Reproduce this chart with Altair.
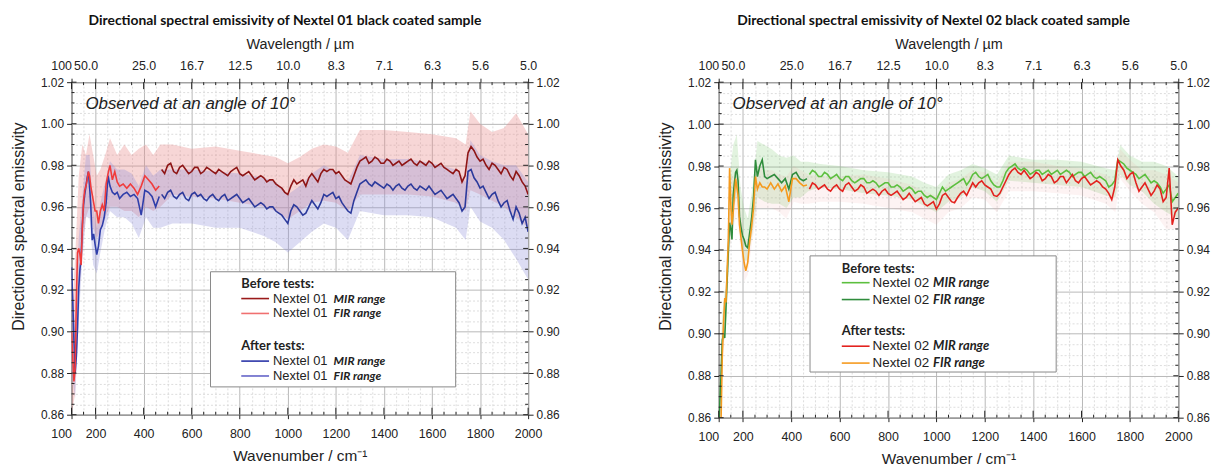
import altair as alt
import pandas as pd

# ---------------- texts ----------------
TITLE_1 = "Directional spectral emissivity of Nextel 01 black coated sample"
TITLE_2 = "Directional spectral emissivity of Nextel 02 black coated sample"
NOTE = "Observed at an angle of 10°"
X_TITLE = "Wavenumber / cm⁻¹"
TOP_TITLE = "Wavelength / µm"
Y_TITLE = "Directional spectral emissivity"

# ---------------- ticks ----------------
X_TICKS = [100, 200, 400, 600, 800, 1000, 1200, 1400, 1600, 1800, 2000]
TOP_LABELS = ["100", "50.0", "25.0", "16.7", "12.5", "10.0", "8.3", "7.1", "6.3", "5.6", "5.0"]
X_MINOR = [150, 250, 300, 350, 450, 500, 550, 650, 700, 750, 850, 900, 950,
           1050, 1100, 1150, 1250, 1300, 1350, 1450, 1500, 1550, 1650, 1700,
           1750, 1850, 1900, 1950]
Y_TICKS = [0.86, 0.88, 0.90, 0.92, 0.94, 0.96, 0.98, 1.00, 1.02]
Y_MINOR = [0.865, 0.87, 0.875, 0.885, 0.89, 0.895, 0.905, 0.91, 0.915,
           0.925, 0.93, 0.935, 0.945, 0.95, 0.955, 0.965, 0.97, 0.975,
           0.985, 0.99, 0.995, 1.005, 1.01, 1.015]

# ---------------- spectra ----------------
FIR_WN = [100, 105, 110, 115, 120, 125, 130, 135, 140, 145, 150, 155, 160, 165,
          170, 175, 180, 186, 192, 198, 205, 212, 220, 228, 236, 244, 252, 260,
          270, 280, 290, 300, 315, 330, 345, 360, 375, 390, 405, 420, 435, 450, 465]
MIR_WN = [475, 500, 525, 550, 575, 600, 625, 650, 675, 700, 725, 750, 775, 800,
          825, 850, 875, 900, 925, 950, 975, 1000, 1025, 1050, 1075, 1100, 1125,
          1150, 1175, 1200, 1225, 1250, 1275, 1300, 1325, 1350, 1375, 1400, 1425,
          1450, 1475, 1500, 1525, 1550, 1575, 1600, 1625, 1650, 1675, 1700, 1725,
          1750, 1775, 1800, 1825, 1850, 1875, 1900, 1925, 1950, 1975, 2000]
MIR_MID_WN = [487.5, 512.5, 537.5, 562.5, 587.5, 612.5, 637.5, 662.5, 687.5, 712.5,
              737.5, 762.5, 787.5, 812.5, 837.5, 862.5, 887.5, 912.5, 937.5, 962.5,
              987.5, 1012.5, 1037.5, 1062.5, 1087.5, 1112.5, 1137.5, 1162.5, 1187.5,
              1212.5, 1237.5, 1262.5, 1287.5, 1312.5, 1337.5, 1362.5, 1387.5, 1412.5,
              1437.5, 1462.5, 1487.5, 1512.5, 1537.5, 1562.5, 1587.5, 1612.5, 1637.5,
              1662.5, 1687.5, 1712.5, 1737.5, 1762.5, 1787.5, 1812.5, 1837.5, 1862.5,
              1887.5, 1912.5, 1937.5, 1962.5, 1987.5]

# Nextel 01
P1_BEFORE_FIR = [0.900, 0.888, 0.876, 0.882, 0.915, 0.938, 0.940, 0.937, 0.932, 0.950,
                 0.963, 0.968, 0.970, 0.973, 0.977, 0.975, 0.970, 0.966, 0.962, 0.958,
                 0.958, 0.952, 0.958, 0.961, 0.958, 0.971, 0.976, 0.980, 0.973, 0.977,
                 0.972, 0.970, 0.971, 0.969, 0.971, 0.969, 0.966, 0.970, 0.975, 0.973,
                 0.971, 0.968, 0.970]
P1_AFTER_FIR = [0.931, 0.915, 0.896, 0.880, 0.888, 0.902, 0.921, 0.930, 0.935, 0.951,
                0.961, 0.966, 0.970, 0.974, 0.977, 0.970, 0.961, 0.944, 0.947, 0.942,
                0.937, 0.941, 0.949, 0.951, 0.955, 0.962, 0.975, 0.970, 0.967, 0.966,
                0.967, 0.964, 0.966, 0.967, 0.965, 0.966, 0.964, 0.956, 0.968, 0.967,
                0.965, 0.960, 0.965]
P1_BEFORE_MIR = [0.978, 0.980, 0.977, 0.979, 0.978, 0.977, 0.979, 0.977, 0.978, 0.976,
                 0.977, 0.975, 0.978, 0.976, 0.976, 0.975, 0.974, 0.974, 0.973, 0.971,
                 0.969, 0.966, 0.973, 0.972, 0.970, 0.976, 0.972, 0.978, 0.978, 0.976,
                 0.975, 0.972, 0.975, 0.982, 0.984, 0.982, 0.983, 0.981, 0.982, 0.981,
                 0.980, 0.982, 0.981, 0.982, 0.980, 0.981, 0.980, 0.979, 0.977, 0.978,
                 0.972, 0.986, 0.987, 0.982, 0.980, 0.981, 0.978, 0.979, 0.975, 0.977,
                 0.972, 0.966]
P1_BEFORE_MIR_MID = [0.976, 0.981, 0.976, 0.980, 0.976, 0.979, 0.976, 0.979, 0.977, 0.978,
                     0.976, 0.977, 0.979, 0.975, 0.977, 0.973, 0.975, 0.972, 0.973, 0.970,
                     0.967, 0.970, 0.971, 0.973, 0.974, 0.974, 0.976, 0.977, 0.978, 0.977,
                     0.973, 0.971, 0.979, 0.983, 0.981, 0.984, 0.981, 0.983, 0.980, 0.982,
                     0.981, 0.983, 0.980, 0.981, 0.982, 0.979, 0.981, 0.978, 0.976, 0.977,
                     0.975, 0.989, 0.984, 0.983, 0.978, 0.980, 0.976, 0.978, 0.973, 0.975,
                     0.970]
P1_AFTER_MIR = [0.966, 0.967, 0.965, 0.966, 0.964, 0.966, 0.965, 0.964, 0.965, 0.964,
                0.965, 0.963, 0.965, 0.964, 0.963, 0.962, 0.961, 0.961, 0.960, 0.958,
                0.956, 0.952, 0.961, 0.958, 0.957, 0.963, 0.959, 0.966, 0.966, 0.964,
                0.962, 0.958, 0.963, 0.971, 0.973, 0.970, 0.971, 0.969, 0.970, 0.970,
                0.969, 0.970, 0.969, 0.970, 0.968, 0.968, 0.967, 0.966, 0.965, 0.964,
                0.958, 0.977, 0.974, 0.969, 0.967, 0.966, 0.963, 0.962, 0.958, 0.960,
                0.952, 0.948]
P1_AFTER_MIR_MID = [0.964, 0.968, 0.964, 0.967, 0.963, 0.967, 0.966, 0.963, 0.966, 0.963,
                    0.966, 0.964, 0.966, 0.962, 0.964, 0.960, 0.962, 0.959, 0.960, 0.957,
                    0.954, 0.958, 0.960, 0.956, 0.960, 0.961, 0.962, 0.965, 0.967, 0.965,
                    0.960, 0.957, 0.967, 0.972, 0.971, 0.972, 0.970, 0.971, 0.968, 0.971,
                    0.968, 0.971, 0.968, 0.969, 0.970, 0.966, 0.968, 0.964, 0.966, 0.962,
                    0.960, 0.978, 0.972, 0.970, 0.964, 0.967, 0.960, 0.963, 0.954, 0.957,
                    0.955]

# Nextel 02
P2_BEFORE_FIR = [0.850, 0.868, 0.881, 0.897, 0.900, 0.898, 0.912, 0.926, 0.940, 0.953,
                 0.950, 0.945, 0.966, 0.972, 0.977, 0.978, 0.973, 0.956, 0.951, 0.947,
                 0.945, 0.942, 0.941, 0.948, 0.955, 0.965, 0.983, 0.975, 0.980, 0.983,
                 0.975, 0.974, 0.975, 0.976, 0.974, 0.972, 0.974, 0.969, 0.976, 0.977,
                 0.974, 0.973, 0.974]
P2_AFTER_FIR = [0.835, 0.845, 0.860, 0.890, 0.905, 0.917, 0.915, 0.930, 0.945, 0.979,
                0.962, 0.952, 0.958, 0.966, 0.974, 0.970, 0.966, 0.952, 0.946, 0.940,
                0.934, 0.930, 0.934, 0.944, 0.951, 0.960, 0.975, 0.969, 0.972, 0.970,
                0.970, 0.969, 0.972, 0.969, 0.9715, 0.968, 0.9705, 0.963, 0.974, 0.974,
                0.972, 0.9705, 0.971]
P2_BEFORE_MIR = [0.976, 0.977, 0.975, 0.976, 0.975, 0.974, 0.975, 0.973, 0.973, 0.974,
                 0.972, 0.972, 0.971, 0.972, 0.970, 0.970, 0.969, 0.969, 0.968, 0.966,
                 0.966, 0.964, 0.970, 0.969, 0.971, 0.973, 0.971, 0.976, 0.975, 0.975,
                 0.973, 0.970, 0.973, 0.979, 0.981, 0.978, 0.978, 0.977, 0.978, 0.977,
                 0.976, 0.978, 0.977, 0.977, 0.976, 0.977, 0.976, 0.975, 0.975, 0.973,
                 0.971, 0.983, 0.981, 0.978, 0.976, 0.975, 0.974, 0.973, 0.970, 0.969,
                 0.963, 0.967]
P2_BEFORE_MIR_MID = [0.978, 0.975, 0.977, 0.974, 0.976, 0.973, 0.975, 0.972, 0.974, 0.972,
                     0.973, 0.970, 0.972, 0.970, 0.971, 0.968, 0.970, 0.967, 0.968, 0.965,
                     0.965, 0.967, 0.968, 0.970, 0.972, 0.974, 0.973, 0.977, 0.974, 0.976,
                     0.971, 0.970, 0.977, 0.980, 0.979, 0.979, 0.976, 0.978, 0.976, 0.978,
                     0.977, 0.976, 0.978, 0.975, 0.977, 0.975, 0.977, 0.974, 0.974, 0.970,
                     0.973, 0.982, 0.979, 0.977, 0.974, 0.976, 0.972, 0.972, 0.967, 0.971,
                     0.965]
P2_AFTER_MIR = [0.969, 0.971, 0.970, 0.969, 0.970, 0.969, 0.971, 0.970, 0.969, 0.970,
                0.968, 0.968, 0.968, 0.967, 0.967, 0.966, 0.965, 0.965, 0.964, 0.962,
                0.962, 0.9595, 0.966, 0.965, 0.9625, 0.967, 0.966, 0.972, 0.972, 0.971,
                0.969, 0.9655, 0.970, 0.976, 0.979, 0.976, 0.976, 0.975, 0.976, 0.974,
                0.975, 0.973, 0.975, 0.974, 0.973, 0.974, 0.973, 0.972, 0.972, 0.969,
                0.964, 0.983, 0.978, 0.976, 0.972, 0.970, 0.969, 0.968, 0.969, 0.965,
                0.952, 0.960]
P2_AFTER_MIR_MID = [0.972, 0.969, 0.971, 0.968, 0.971, 0.968, 0.972, 0.968, 0.971, 0.967,
                    0.969, 0.966, 0.969, 0.966, 0.968, 0.964, 0.967, 0.963, 0.965, 0.961,
                    0.963, 0.962, 0.967, 0.963, 0.965, 0.968, 0.969, 0.970, 0.973, 0.970,
                    0.966, 0.967, 0.973, 0.978, 0.977, 0.978, 0.974, 0.977, 0.973, 0.976,
                    0.972, 0.975, 0.972, 0.976, 0.972, 0.975, 0.971, 0.973, 0.970, 0.967,
                    0.970, 0.980, 0.974, 0.977, 0.968, 0.972, 0.966, 0.971, 0.963, 0.979,
                    0.958]

# uncertainty bands (lower / upper edges)
BAND_WN = [100, 115, 130, 145, 160, 175, 190, 205, 220, 240, 260, 290, 320, 350,
           380, 410, 440, 470, 520, 600, 700, 800, 900, 950, 1000, 1050, 1100, 1150,
           1200, 1250, 1300, 1400, 1500, 1600, 1700, 1740, 1760, 1800, 1850, 1900,
           1950, 2000]
P1_BAND_BEFORE_LO = [0.860, 0.870, 0.915, 0.940, 0.955, 0.960, 0.950, 0.945, 0.948, 0.955,
                     0.960, 0.960, 0.958, 0.958, 0.955, 0.960, 0.958, 0.960, 0.966, 0.965,
                     0.964, 0.962, 0.960, 0.958, 0.954, 0.958, 0.962, 0.963, 0.962, 0.958,
                     0.966, 0.966, 0.966, 0.965, 0.962, 0.958, 0.968, 0.966, 0.963, 0.960,
                     0.955, 0.950]
P1_BAND_BEFORE_HI = [0.905, 0.935, 0.975, 0.990, 0.985, 0.995, 0.985, 0.975, 0.978, 0.985,
                     0.993, 0.985, 0.990, 0.985, 0.988, 0.990, 0.985, 0.990, 0.990, 0.988,
                     0.989, 0.987, 0.985, 0.984, 0.981, 0.984, 0.988, 0.990, 0.989, 0.986,
                     0.997, 0.997, 0.996, 0.995, 0.993, 0.990, 1.006, 1.000, 0.996, 0.998,
                     1.005, 0.995]
P1_BAND_AFTER_LO = [0.880, 0.868, 0.905, 0.935, 0.955, 0.955, 0.932, 0.928, 0.938, 0.950,
                    0.958, 0.955, 0.955, 0.952, 0.945, 0.955, 0.950, 0.950, 0.952, 0.952,
                    0.950, 0.950, 0.946, 0.943, 0.938, 0.943, 0.948, 0.952, 0.950, 0.944,
                    0.958, 0.956, 0.956, 0.955, 0.950, 0.944, 0.960, 0.953, 0.950, 0.944,
                    0.935, 0.925]
P1_BAND_AFTER_HI = [0.935, 0.900, 0.945, 0.965, 0.985, 0.985, 0.960, 0.950, 0.962, 0.972,
                    0.982, 0.978, 0.978, 0.976, 0.970, 0.980, 0.975, 0.978, 0.978, 0.978,
                    0.977, 0.976, 0.974, 0.972, 0.966, 0.970, 0.976, 0.980, 0.977, 0.972,
                    0.985, 0.983, 0.983, 0.981, 0.978, 0.972, 0.992, 0.985, 0.982, 0.980,
                    0.980, 0.972]
P2_BAND_BEFORE_LO = [0.860, 0.890, 0.905, 0.940, 0.960, 0.965, 0.945, 0.935, 0.935, 0.948,
                     0.965, 0.963, 0.962, 0.962, 0.960, 0.965, 0.965, 0.968, 0.970, 0.969,
                     0.967, 0.966, 0.964, 0.961, 0.958, 0.963, 0.965, 0.970, 0.968, 0.963,
                     0.973, 0.972, 0.971, 0.970, 0.966, 0.965, 0.976, 0.971, 0.968, 0.962,
                     0.958, 0.955]
P2_BAND_BEFORE_HI = [0.870, 0.910, 0.925, 0.975, 0.990, 0.995, 0.970, 0.960, 0.955, 0.970,
                     0.992, 0.990, 0.988, 0.985, 0.984, 0.985, 0.982, 0.982, 0.981, 0.980,
                     0.978, 0.977, 0.975, 0.972, 0.970, 0.976, 0.978, 0.981, 0.979, 0.976,
                     0.985, 0.983, 0.983, 0.982, 0.979, 0.978, 0.990, 0.985, 0.982, 0.982,
                     0.980, 0.975]
P2_BAND_AFTER_LO = [0.860, 0.885, 0.905, 0.940, 0.950, 0.958, 0.940, 0.925, 0.928, 0.945,
                    0.960, 0.960, 0.960, 0.958, 0.955, 0.963, 0.962, 0.962, 0.963, 0.963,
                    0.962, 0.960, 0.958, 0.955, 0.952, 0.958, 0.960, 0.965, 0.964, 0.958,
                    0.968, 0.968, 0.967, 0.966, 0.962, 0.958, 0.974, 0.968, 0.962, 0.958,
                    0.950, 0.950]
P2_BAND_AFTER_HI = [0.866, 0.905, 0.925, 0.975, 0.975, 0.980, 0.962, 0.945, 0.945, 0.965,
                    0.980, 0.978, 0.978, 0.976, 0.975, 0.980, 0.978, 0.976, 0.975, 0.975,
                    0.976, 0.974, 0.971, 0.968, 0.966, 0.972, 0.974, 0.978, 0.977, 0.972,
                    0.982, 0.982, 0.980, 0.979, 0.976, 0.972, 0.988, 0.983, 0.978, 0.978,
                    0.976, 0.972]

# legend texts
LEG_HEADS = ["Before tests:", "After tests:"]
LEG_RANGES = ["MIR range", "FIR range", "MIR range", "FIR range"]
P1_NAME = "Nextel 01"
P2_NAME = "Nextel 02"

# ---------------- styling ----------------
FONT = "Liberation Sans"
TFONT = "Lato"
TXT = "#222222"

P1_LEG_COLORS = ["#9a1a1a", "#f07070", "#2a34a8", "#6464c8"]
P2_LEG_COLORS = ["#5cbf3e", "#2f8c3c", "#e3221e", "#f59a1e"]


def label_expr(values, labels):
    expr = "''"
    for v, lab in reversed(list(zip(values, labels))):
        expr = f"datum.value === {v} ? '{lab}' : ({expr})"
    return expr


ALIGN_FIRST_RIGHT = {"condition": {"test": "datum.value === 100", "value": "right"},
                     "value": "center"}
TOP_OFFSET = {"condition": {"test": "datum.value === 200", "value": -10}, "value": 0}


def panel(title, w, h, leg_colors, name, bands, lines, box, rows, sz):
    xs = alt.Scale(domain=[100, 2000], nice=False, zero=False)
    ys = alt.Scale(domain=[0.86, 1.02], nice=False, zero=False)
    one = pd.DataFrame({"k": [0]})
    layers = []

    minor_x_axis = alt.Axis(orient="bottom", values=X_MINOR, grid=True, gridColor="#d4d4d4",
                            gridDash=[2, 2], gridWidth=0.8, labels=False, ticks=False,
                            domain=False, title="")
    minor_y_axis = alt.Axis(orient="left", values=Y_MINOR, grid=True, gridColor="#d4d4d4",
                            gridDash=[2, 2], gridWidth=0.8, labels=False, ticks=False,
                            domain=False, title="")
    bottom_axis = alt.Axis(orient="bottom", values=X_TICKS, format="d", grid=True,
                           gridColor="#b8b8b8", gridWidth=1, ticks=True, tickSize=4,
                           tickColor="#222", domain=False, labelPadding=9,
                           labelFontSize=12.5, labelAlign=ALIGN_FIRST_RIGHT,
                           title=X_TITLE, titleFontSize=15.5, titlePadding=9,
                           labelFlush=False)
    left_axis = alt.Axis(orient="left", values=Y_TICKS, format=".2f", grid=True,
                         gridColor="#b8b8b8", gridWidth=1, ticks=True, tickSize=5,
                         tickColor="#222", domain=False, labelPadding=3,
                         labelFontSize=12, title=Y_TITLE, titleFontSize=16,
                         titlePadding=14, titleY=145)
    top_axis = alt.Axis(orient="top", values=X_TICKS, labelExpr=label_expr(X_TICKS, TOP_LABELS),
                        grid=False, ticks=True, tickSize=4, tickColor="#222", domain=False,
                        labelPadding=6, labelFontSize=12.5, labelAlign=ALIGN_FIRST_RIGHT,
                        labelOffset=TOP_OFFSET, title=TOP_TITLE, titleFontSize=14.5,
                        titlePadding=8, labelFlush=False)
    right_axis = alt.Axis(orient="right", values=Y_TICKS, format=".2f", grid=False,
                          ticks=True, tickSize=5, tickColor="#222", domain=False,
                          labelPadding=3, labelFontSize=12, title="")

    # bands
    for i, (lo, hi, col, op) in enumerate(bands):
        df = pd.DataFrame({"wn": BAND_WN, "lo": lo, "hi": hi})
        layers.append(alt.Chart(df).mark_area(color=col, opacity=op, clip=True).encode(
            x=alt.X("wn:Q", scale=xs, axis=minor_x_axis if i == 0 else None),
            y=alt.Y("lo:Q", scale=ys, axis=minor_y_axis if i == 0 else None),
            y2="hi:Q"))

    # lines
    axes_for = [(bottom_axis, left_axis), (top_axis, right_axis), (None, None), (None, None)]
    for i, (wn, vals, col) in enumerate(lines):
        df = pd.DataFrame({"wn": wn, "v": vals})
        xa, ya = axes_for[i]
        layers.append(alt.Chart(df).mark_line(color=col, strokeWidth=1.6, clip=True).encode(
            x=alt.X("wn:Q", scale=xs, axis=xa, sort="ascending"),
            y=alt.Y("v:Q", scale=ys, axis=ya)))

    # inward ticks
    tx = pd.DataFrame({"t": X_TICKS})
    txm = pd.DataFrame({"t": X_MINOR})
    ty = pd.DataFrame({"t": Y_TICKS})
    tym = pd.DataFrame({"t": Y_MINOR})
    for d, ln in ((tx, 7), (txm, 3)):
        layers.append(alt.Chart(d).mark_rule(color="#222", strokeWidth=1).encode(
            x=alt.X("t:Q", scale=xs, axis=None), y=alt.value(h), y2=alt.value(h - ln)))
        layers.append(alt.Chart(d).mark_rule(color="#222", strokeWidth=1).encode(
            x=alt.X("t:Q", scale=xs, axis=None), y=alt.value(0), y2=alt.value(ln)))
    for d, ln in ((ty, 5), (tym, 3)):
        layers.append(alt.Chart(d).mark_rule(color="#222", strokeWidth=1).encode(
            y=alt.Y("t:Q", scale=ys, axis=None), x=alt.value(0), x2=alt.value(ln)))
        layers.append(alt.Chart(d).mark_rule(color="#222", strokeWidth=1).encode(
            y=alt.Y("t:Q", scale=ys, axis=None), x=alt.value(w), x2=alt.value(w - ln)))

    # annotation
    layers.append(alt.Chart(one).mark_text(text=NOTE, font=FONT, fontSize=17, fontStyle="italic",
                                           align="left", baseline="middle", color=TXT).encode(
        x=alt.value(14), y=alt.value(22)))

    # legend box
    bx0, bx1, by0, by1 = box
    layers.append(alt.Chart(one).mark_rect(fill="white", stroke="#888888", strokeWidth=1).encode(
        x=alt.value(bx0), x2=alt.value(bx1), y=alt.value(by0), y2=alt.value(by1)))
    lx, nx, rx, head_y, row_y = rows
    for hy, head in zip(head_y, LEG_HEADS):
        layers.append(alt.Chart(one).mark_text(text=head, font=TFONT, fontSize=sz[0],
                                               fontWeight="bold", align="left",
                                               baseline="middle", color=TXT).encode(
            x=alt.value(lx), y=alt.value(hy)))
    for ry, rng, col in zip(row_y, LEG_RANGES, leg_colors):
        layers.append(alt.Chart(one).mark_rule(color=col, strokeWidth=1.6).encode(
            x=alt.value(lx), x2=alt.value(lx + 28), y=alt.value(ry)))
        layers.append(alt.Chart(one).mark_text(text=name, font=FONT, fontSize=sz[1],
                                               align="left", baseline="middle",
                                               color=TXT).encode(
            x=alt.value(nx), y=alt.value(ry)))
        layers.append(alt.Chart(one).mark_text(text=rng, font=TFONT, fontSize=sz[2],
                                               fontWeight="bold", fontStyle="italic",
                                               align="left", baseline="middle",
                                               color=TXT).encode(
            x=alt.value(rx), y=alt.value(ry)))

    return alt.layer(*layers).resolve_axis(x="independent", y="independent").properties(
        width=w, height=h,
        title=alt.TitleParams(title, font=TFONT, fontSize=14, fontWeight="bold",
                              anchor="middle", frame="bounds", color="#111", offset=9))


MIR_ALL = MIR_WN + MIR_MID_WN

p1 = panel(TITLE_1, 460, 335, P1_LEG_COLORS, P1_NAME,
           [(P1_BAND_BEFORE_LO, P1_BAND_BEFORE_HI, "#e88a8a", 0.35),
            (P1_BAND_AFTER_LO, P1_BAND_AFTER_HI, "#8a8ad8", 0.30)],
           [(FIR_WN, P1_AFTER_FIR, "#2f3eaa"),
            (FIR_WN, P1_BEFORE_FIR, "#f03c3c"),
            (MIR_ALL, P1_BEFORE_MIR + P1_BEFORE_MIR_MID, "#8e1515"),
            (MIR_ALL, P1_AFTER_MIR + P1_AFTER_MIR_MID, "#2c3a9c")],
           (140, 387, 191, 307),
           (171, 203, 264, [203, 266], [218, 233, 281, 296]),
           (13, 13, 12))

p2 = panel(TITLE_2, 463, 338, P2_LEG_COLORS, P2_NAME,
           [(P2_BAND_BEFORE_LO, P2_BAND_BEFORE_HI, "#7cc86c", 0.22),
            (P2_BAND_AFTER_LO, P2_BAND_AFTER_HI, "#f08a8a", 0.10)],
           [(FIR_WN, P2_BEFORE_FIR, "#2f8c3c"),
            (FIR_WN, P2_AFTER_FIR, "#f59a1e"),
            (MIR_ALL, P2_BEFORE_MIR + P2_BEFORE_MIR_MID, "#5cbf3e"),
            (MIR_ALL, P2_AFTER_MIR + P2_AFTER_MIR_MID, "#e3221e")],
           (92, 340, 175, 292),
           (124, 155, 216, [188, 251], [202, 219, 266, 283]),
           (13, 13.5, 13))

chart = alt.hconcat(p1, p2, spacing=98).properties(
    padding={"left": 2, "top": 3, "right": 5, "bottom": 2}
).configure_view(stroke="#111111", strokeWidth=1).configure_axis(
    labelFont=FONT, titleFont=FONT, labelColor=TXT, titleColor=TXT, titleFontWeight="normal"
)

chart.save("out.html", embed_options={"renderer": "svg", "actions": False})
